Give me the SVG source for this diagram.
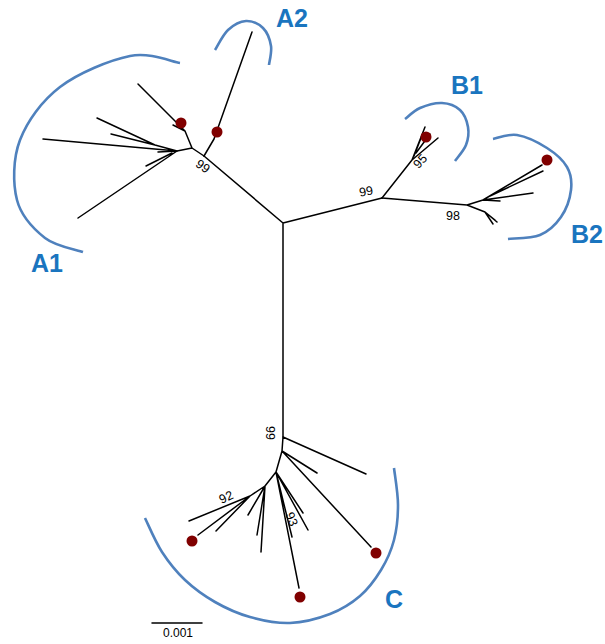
<svg xmlns="http://www.w3.org/2000/svg" width="605" height="644" viewBox="0 0 605 644">
<style>
.br{fill:none;stroke:#000;stroke-width:1.5;stroke-linecap:round;stroke-linejoin:round}
.arc{fill:none;stroke:#4f81bd;stroke-width:2.6;stroke-linecap:butt}
.dot{fill:#800000}
.cl{font-family:"Liberation Sans",Arial,sans-serif;font-weight:bold;font-size:25px;fill:#1a75bf}
.bs{font-family:"Liberation Sans",Arial,sans-serif;font-size:12.5px;fill:#000;text-anchor:middle}
</style>
<rect width="605" height="644" fill="#fff"/>
<g id="connectors">
<path class="br" d="M283,223 L204,156 M283,223 L283,437 M283,223 L382,198"/>
<path class="br" d="M204,156 L214,139 L252,32"/>
<path class="br" d="M204,156 L192,148 L185,131 L138,84 M185,131 L173,125 M192,148 L177,151"/>
<path class="br" d="M177,151 L43,139 M177,151 L155,145 L97,118 M155,145 L111,134 M177,151 L78,218 M172,153 L146,166 M177,151 L158,152"/>
<path class="br" d="M382,198 L412,160 L425,127 M412,160 L438,138 M414,156 L421,138 M416,153 L430,134"/>
<path class="br" d="M382,198 L467,205 L483,200 L533,193 M483,200 L500,201 M483,200 L542,165 M490,196 L543,171 M467,205 L485,212 L495,220 M485,212 L497,222 M485,212 L493,224"/>
<path class="br" d="M283,437 L366,474 M283,437 L282,451 L317,473 M282,451 L371,547 M282,451 L276,472 L303,513 M276,472 L308,530 M276,472 L292,537 M276,472 L299,588 M276,472 L265,486 L248,515 M265,486 L257,535 M265,486 L261,552 M265,486 L250,496 L189,521 M250,496 L216,531 M250,496 L198,535"/>
</g>
<g id="clade-A1">
<path class="arc" d="M180,63 C171.7,61.8 150,52 130,56 C110,60 78.3,73 60,87 C41.7,101 27.2,121.2 20,140 C12.8,158.8 12.8,183.7 17,200 C21.2,216.3 34,229.3 45,238 C56,246.7 76.7,249.7 83,252"/>
<text class="cl" x="31" y="272">A1</text>
</g>
<g id="clade-A2">
<path class="arc" d="M215,50 C217.2,46.7 222.8,34.8 228,30 C233.2,25.2 240.2,21.3 246,21 C251.8,20.7 258.8,23.8 263,28 C267.2,32.2 270,39.8 271,46 C272,52.2 269.3,61.8 269,65"/>
<text class="cl" x="276" y="27">A2</text>
</g>
<g id="clade-B1">
<path class="arc" d="M405,119 C407.5,117.2 413.8,110.7 420,108 C426.2,105.3 435.3,102.7 442,103 C448.7,103.3 455.7,106 460,110 C464.3,114 467,121.2 468,127 C469,132.8 468.2,139.3 466,145 C463.8,150.7 456.8,158.3 455,161"/>
<text class="cl" x="451" y="94">B1</text>
</g>
<g id="clade-B2">
<path class="arc" d="M493,139 C497,138.3 508,133.5 517,135 C526,136.5 538.7,142.7 547,148 C555.3,153.3 563,160 567,167 C571,174 572,181.7 571,190 C570,198.3 566.2,209.5 561,217 C555.8,224.5 548.8,231.3 540,235 C531.2,238.7 513.3,238.3 508,239"/>
<text class="cl" x="571" y="243">B2</text>
</g>
<g id="clade-C">
<path class="arc" d="M145,518 C147.8,523.7 155.3,541.7 162,552 C168.7,562.3 176.2,571.7 185,580 C193.8,588.3 204.2,595.8 215,602 C225.8,608.2 237.5,613.5 250,617 C262.5,620.5 276.7,623.5 290,623 C303.3,622.5 318.3,618.5 330,614 C341.7,609.5 351.5,603.3 360,596 C368.5,588.7 375.3,579.3 381,570 C386.7,560.7 391.2,550.8 394,540 C396.8,529.2 398,517 398,505 C398,493 394.7,474.2 394,468"/>
<text class="cl" x="385" y="608">C</text>
</g>
<g id="tips">
<g id="tip-A1"><circle class="dot" cx="181" cy="123" r="5.5"/></g>
<g id="tip-A2"><circle class="dot" cx="217" cy="132" r="5.5"/></g>
<g id="tip-B1"><circle class="dot" cx="426" cy="137" r="5.5"/></g>
<g id="tip-B2"><circle class="dot" cx="547" cy="160" r="5.5"/></g>
<g id="tip-C1"><circle class="dot" cx="192" cy="541" r="5.5"/></g>
<g id="tip-C2"><circle class="dot" cx="300" cy="597" r="5.5"/></g>
<g id="tip-C3"><circle class="dot" cx="376" cy="553" r="5.5"/></g>
</g>
<g id="support">
<text class="bs" transform="translate(203,166) rotate(35)" dy="0.36em">99</text>
<text class="bs" transform="translate(366,191) rotate(-10)" dy="0.36em">99</text>
<text class="bs" transform="translate(420,161) rotate(-47)" dy="0.36em">95</text>
<text class="bs" x="453" y="220">98</text>
<text class="bs" transform="translate(270,433) rotate(90)" dy="0.36em">99</text>
<text class="bs" transform="translate(226,497) rotate(-25)" dy="0.36em">92</text>
<text class="bs" transform="translate(292,519) rotate(68)" dy="0.36em">93</text>
</g>
<g id="scalebar">
<line class="br" x1="152" y1="623" x2="202" y2="623"/>
<text class="bs" x="178" y="637" style="font-size:12px">0.001</text>
</g>
</svg>
